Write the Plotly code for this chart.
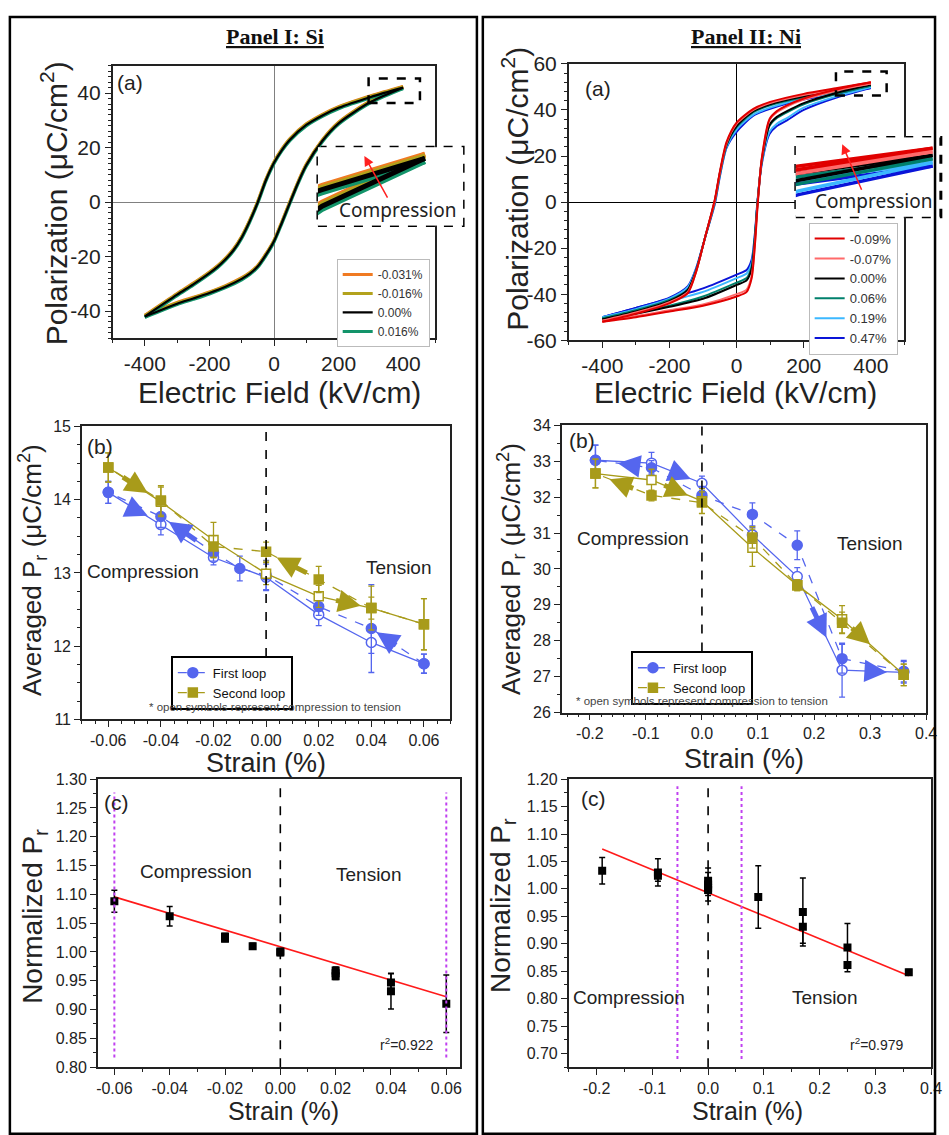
import plotly.graph_objects as go

W, H = 949, 1135
def px(x): return x / W
def py(y): return 1 - y / H

SANS = "Liberation Sans, Arial, sans-serif"
INK = "#222222"

# ---------------- Panel I (a): Si P-E loops ----------------
si_E_up = [400, 300, 200, 150, 100, 50, 25, 0, -25, -50, -75, -100, -125, -150, -175, -200, -250, -300, -400]
si_P_up = [42, 38.6, 34.6, 31.8, 28.3, 23, 19.2, 14.4, 8, 0, -7, -13, -17.6, -21, -23.8, -26.1, -30.2, -34, -42]
si_E_dn = [-400, -300, -250, -200, -150, -100, -75, -50, -25, 0, 25, 50, 75, 100, 150, 200, 300, 400]
si_P_dn = [-42, -37.3, -35.4, -33.4, -31.1, -28.2, -26.3, -23.6, -19.4, -14.4, -7.4, 0, 7.2, 13.5, 22.5, 28.9, 36.8, 42]
si_labels = ["-0.031%", "-0.016%", "0.00%", "0.016%"]
si_colors = ["#f07a22", "#b3a21c", "#000000", "#13946a"]
si_shift = [0.45, 0.25, 0.0, -0.35]      # small vertical separation
si_draw_order = [0, 1, 3, 2]

# ---------------- Panel II (a): Ni P-E loops ----------------
ni_E_up = [400, 300, 200, 100, 50, 0, -30, -50, -65, -95, -120, -145, -200, -300, -400]
ni_E_dn = [-400, -300, -200, -100, 0, 30, 45, 55, 62, 75, 98, 120, 150, 200, 300, 400]
ni_labels = ["-0.09%", "-0.07%", "0.00%", "0.06%", "0.19%", "0.47%"]
ni_colors = ["#e00000", "#ff6a6a", "#000000", "#00806c", "#3cb8ff", "#0a14d8"]
ni_P_up = [
    [52, 49.5, 47, 43.5, 40.5, 34.5, 26, 13, 1, -16, -30, -39.5, -44, -48.5, -52],
    [51.5, 49, 46.5, 43, 40, 34, 25.5, 12.5, 0.5, -16, -30, -39, -43.5, -48, -51.5],
    [51, 48.5, 46, 42.5, 39.5, 33, 25, 12.5, 0.5, -16, -29.5, -38, -43, -47.5, -51],
    [50.5, 48, 45.5, 42, 39, 32.5, 24.5, 12, 0, -16, -29.5, -38, -42.5, -47, -50.5],
    [50, 47.5, 45, 41, 38, 31.5, 24, 11.5, -0.5, -16, -29, -37, -42, -46.5, -50],
    [49.5, 47, 44.5, 40.5, 37.5, 30.5, 23.5, 11, -1, -16, -28.5, -36.5, -41.5, -46, -50],
]
ni_P_dn = [
    [-52, -50, -47.5, -45, -41, -39, -33, -18, -3, 19, 36, 39.5, 42, 45, 49, 52],
    [-51.5, -49.5, -47, -44.5, -40, -38, -32, -17, -2, 18.5, 35.5, 39, 41.5, 44.5, 48.5, 51.5],
    [-51, -48.5, -45.5, -42, -36, -34, -29, -15, -1, 18, 33.5, 37, 39.5, 43, 47.5, 51],
    [-50.5, -48, -45, -41, -35, -33, -28, -14.5, -1, 18, 33, 36.5, 39, 42.5, 47, 50.5],
    [-50, -47, -43, -39, -33, -31, -26.5, -14, -0.5, 17, 30.5, 34, 36.5, 41, 46, 50],
    [-50, -46, -42, -37.5, -31.5, -29.5, -25, -13, 0, 16.5, 29.5, 33, 35.5, 40, 45.5, 49.5],
]
ni_draw_order = [5, 4, 3, 2, 1, 0]

# ---------------- Panel I (b): Si averaged Pr ----------------
si_f1_open_x = [-0.06, -0.04, -0.02, 0.00, 0.02, 0.04, 0.06]
si_f1_open_y = [14.10, 13.66, 13.21, 12.94, 12.43, 12.05, 11.76]
si_f1_open_e = [0.15, 0.14, 0.10, 0.18, 0.15, 0.15, 0.13]
si_f1_fill_x = [0.06, 0.04, 0.02, 0.00, -0.01, -0.02, -0.04, -0.06]
si_f1_fill_y = [11.76, 12.24, 12.54, 12.97, 13.06, 13.28, 13.77, 14.10]
si_f1_fill_e = [0.13, 0.60, 0.12, 0.20, 0.17, 0.12, 0.15, 0.15]
si_s2_open_x = [-0.06, -0.04, -0.02, 0.00, 0.02, 0.04, 0.06]
si_s2_open_y = [14.44, 13.97, 13.45, 12.99, 12.68, 12.52, 12.30]
si_s2_open_e = [0.20, 0.20, 0.24, 0.15, 0.15, 0.30, 0.35]
si_s2_fill_x = [0.06, 0.04, 0.02, 0.00, -0.02, -0.04, -0.06]
si_s2_fill_y = [12.30, 12.52, 12.91, 13.29, 13.36, 13.99, 14.44]
si_s2_fill_e = [0.35, 0.15, 0.18, 0.13, 0.15, 0.20, 0.20]

# ---------------- Panel II (b): Ni averaged Pr ----------------
ni_f1_open_x = [-0.19, -0.09, 0.00, 0.09, 0.17, 0.25, 0.36]
ni_f1_open_y = [33.03, 32.95, 32.39, 30.95, 29.79, 27.18, 27.12]
ni_f1_open_e = [0.42, 0.30, 0.20, 0.20, 0.25, 0.75, 0.30]
ni_f1_fill_x = [0.36, 0.25, 0.17, 0.09, 0.00, -0.09, -0.19]
ni_f1_fill_y = [27.15, 27.50, 30.66, 31.52, 32.05, 32.82, 33.03]
ni_f1_fill_e = [0.30, 0.40, 0.40, 0.32, 0.25, 0.20, 0.42]
ni_s2_open_x = [-0.19, -0.09, 0.00, 0.09, 0.17, 0.25, 0.36]
ni_s2_open_y = [32.66, 32.48, 31.89, 30.59, 29.55, 28.60, 27.05]
ni_s2_open_e = [0.40, 0.30, 0.35, 0.52, 0.15, 0.38, 0.30]
ni_s2_fill_x = [0.36, 0.25, 0.17, 0.09, 0.00, -0.09, -0.19]
ni_s2_fill_y = [27.05, 28.50, 29.55, 30.88, 31.85, 32.05, 32.66]
ni_s2_fill_e = [0.30, 0.30, 0.15, 0.30, 0.30, 0.15, 0.40]

# ---------------- Panel I (c) / II (c): normalized Pr ----------------
si_c_x = [-0.06, -0.04, -0.02, -0.02, -0.01, 0.00, 0.00, 0.02, 0.02, 0.02, 0.04, 0.04, 0.06]
si_c_y = [1.088, 1.062, 1.027, 1.023, 1.010, 1.001, 0.999, 0.968, 0.963, 0.958, 0.947, 0.932, 0.910]
si_c_e = [0.019, 0.017, 0.005, 0.005, 0.005, 0.005, 0.005, 0.006, 0.006, 0.006, 0.015, 0.031, 0.050]
si_fit = (1.009, -1.444)     # intercept, slope
si_fit_r2 = "r<sup>2</sup>=0.922"

ni_c_x = [-0.19, -0.09, -0.09, 0.00, 0.00, 0.00, 0.00, 0.09, 0.17, 0.17, 0.25, 0.25, 0.36]
ni_c_y = [1.033, 1.030, 1.024, 1.015, 1.008, 1.002, 0.998, 0.985, 0.958, 0.931, 0.893, 0.861, 0.848]
ni_c_e = [0.024, 0.025, 0.010, 0.015, 0.030, 0.010, 0.010, 0.057, 0.062, 0.030, 0.044, 0.005, 0.005]
ni_fit = (0.993, -0.42)
ni_fit_r2 = "r<sup>2</sup>=0.979"

# tick labels
tk_E = [-400, -200, 0, 200, 400]
tk_si_b_x = [-0.06, -0.04, -0.02, 0.00, 0.02, 0.04, 0.06]
tk_si_b_xt = ["-0.06", "-0.04", "-0.02", "0.00", "0.02", "0.04", "0.06"]
tk_ni_x = [-0.2, -0.1, 0.0, 0.1, 0.2, 0.3, 0.4]
tk_ni_xt = ["-0.2", "-0.1", "0.0", "0.1", "0.2", "0.3", "0.4"]

BLUE = "#5566ee"
OLIVE = "#a89b1a"

fig = go.Figure()

# ---- (a) loops ----
for i in si_draw_order:
    s = si_shift[i]
    xs = si_E_up + [None] + si_E_dn
    ys = [p + s for p in si_P_up] + [None] + [p + s for p in si_P_dn]
    fig.add_trace(go.Scatter(x=xs, y=ys, mode="lines", name=si_labels[i],
                             line=dict(color=si_colors[i], width=3 if i != 2 else 2.2, shape="spline", smoothing=0.8),
                             xaxis="x", yaxis="y", legend="legend", legendrank=i + 1, connectgaps=False))
    fig.add_trace(go.Scatter(x=xs, y=ys, mode="lines", showlegend=False, hoverinfo="skip",
                             line=dict(color=si_colors[i], width=5),
                             xaxis="x7", yaxis="y7", connectgaps=False))

for i in ni_draw_order:
    xs = ni_E_up + [None] + ni_E_dn
    ys = ni_P_up[i] + [None] + ni_P_dn[i]
    fig.add_trace(go.Scatter(x=xs, y=ys, mode="lines", name=ni_labels[i],
                             line=dict(color=ni_colors[i], width=2, shape="spline", smoothing=0.7),
                             xaxis="x2", yaxis="y2", legend="legend2", legendrank=i + 1, connectgaps=False))
    fig.add_trace(go.Scatter(x=xs, y=ys, mode="lines", showlegend=False, hoverinfo="skip",
                             line=dict(color=ni_colors[i], width=3.5),
                             xaxis="x8", yaxis="y8", connectgaps=False))

# ---- (b) loops ----
def pr_series(x, y, e, color, symbol, filled, dash, xa, ya, legend, name, show):
    fig.add_trace(go.Scatter(
        x=x, y=y, mode="lines+markers", name=name, showlegend=show, legend=legend,
        line=dict(color=color, width=1.3, dash=dash),
        marker=dict(symbol=symbol, size=10 if symbol == "circle" else 9,
                    color=color if filled else "white", line=dict(color=color, width=1.5)),
        error_y=dict(type="data", array=e, color=color, thickness=1.3, width=3),
        xaxis=xa, yaxis=ya))

pr_series(si_f1_open_x, si_f1_open_y, si_f1_open_e, BLUE, "circle", False, "solid", "x3", "y3", "legend3", "First loop o", False)
pr_series(si_f1_fill_x, si_f1_fill_y, si_f1_fill_e, BLUE, "circle", True, "dash", "x3", "y3", "legend3", "First loop", True)
pr_series(si_s2_open_x, si_s2_open_y, si_s2_open_e, OLIVE, "square", False, "solid", "x3", "y3", "legend3", "Second loop o", False)
pr_series(si_s2_fill_x, si_s2_fill_y, si_s2_fill_e, OLIVE, "square", True, "dash", "x3", "y3", "legend3", "Second loop", True)

pr_series(ni_f1_open_x, ni_f1_open_y, ni_f1_open_e, BLUE, "circle", False, "solid", "x4", "y4", "legend4", "First loop o", False)
pr_series(ni_f1_fill_x, ni_f1_fill_y, ni_f1_fill_e, BLUE, "circle", True, "dash", "x4", "y4", "legend4", "First loop", True)
pr_series(ni_s2_open_x, ni_s2_open_y, ni_s2_open_e, OLIVE, "square", False, "solid", "x4", "y4", "legend4", "Second loop o", False)
pr_series(ni_s2_fill_x, ni_s2_fill_y, ni_s2_fill_e, OLIVE, "square", True, "dash", "x4", "y4", "legend4", "Second loop", True)

# ---- (c) normalized ----
for (cx, cy, ce, fit, xa, ya) in [(si_c_x, si_c_y, si_c_e, si_fit, "x5", "y5"),
                                   (ni_c_x, ni_c_y, ni_c_e, ni_fit, "x6", "y6")]:
    x0, x1 = min(cx), max(cx)
    fig.add_trace(go.Scatter(x=[x0, x1], y=[fit[0] + fit[1] * x0, fit[0] + fit[1] * x1], mode="lines",
                             line=dict(color="#ff1a1a", width=1.6), showlegend=False, xaxis=xa, yaxis=ya))
    fig.add_trace(go.Scatter(x=cx, y=cy, mode="markers", showlegend=False,
                             marker=dict(symbol="square", size=8, color="black"),
                             error_y=dict(type="data", array=ce, color="black", thickness=1.5, width=3),
                             xaxis=xa, yaxis=ya))

# ---------------- axes ----------------
def ax(domain, anchor, rng, tickvals=None, ticktext=None, dtick=None, minor=None, fs=16, **kw):
    d = dict(domain=domain, anchor=anchor, range=rng, autorange=False, showline=True, linecolor=INK, linewidth=1.5,
             mirror=True, ticks="outside", ticklen=6, tickwidth=1.3, tickcolor=INK, showgrid=False,
             zeroline=False, tickfont=dict(family=SANS, size=fs, color=INK))
    if tickvals is not None:
        d.update(tickmode="array", tickvals=tickvals, ticktext=ticktext)
    if dtick is not None:
        d.update(tickmode="linear", tick0=0, dtick=dtick)
    if minor is not None:
        d["minor"] = dict(tickmode="linear", tick0=0, dtick=minor, ticks="outside", ticklen=3,
                          tickwidth=1, tickcolor=INK)
    d.update(kw)
    return d

def hidden(domain, anchor, rng):
    return dict(domain=domain, anchor=anchor, range=rng, autorange=False, showline=False, showgrid=False,
                zeroline=False, ticks="", showticklabels=False, fixedrange=True)

def pos(x0, x1, y0, y1):
    return [px(x0), px(x1)], [py(y1), py(y0)]

dx1, dy1 = pos(113, 440, 55, 333)
dx2, dy2 = pos(575, 915, 53, 335)
dx3, dy3 = pos(82, 455, 423, 722)
dx4, dy4 = pos(568, 937, 422, 715)
dx5, dy5 = pos(98, 465, 783, 1077)
dx6, dy6 = pos(575, 942, 783, 1077)
dx7, dy7 = pos(321, 468, 138, 218)
dx8, dy8 = pos(805, 949, 128, 209)

tk_Et = [str(v) for v in tk_E]
layout_axes = dict(
    xaxis=ax(dx1, "y", [-500, 500], tk_E, tk_Et, minor=100, fs=21, zeroline=True, zerolinecolor="#808080", zerolinewidth=1),
    yaxis=ax(dy1, "x", [-50, 50], [-40, -20, 0, 20, 40], ["-40", "-20", "0", "20", "40"], minor=2, fs=21,
             zeroline=True, zerolinecolor="#808080", zerolinewidth=1),
    xaxis2=ax(dx2, "y2", [-500, 500], tk_E, tk_Et, minor=100, fs=21, zeroline=True, zerolinecolor="#000", zerolinewidth=1.2),
    yaxis2=ax(dy2, "x2", [-60, 60], [-60, -40, -20, 0, 20, 40, 60], ["-60", "-40", "-20", "0", "20", "40", "60"],
              minor=4, fs=21, zeroline=True, zerolinecolor="#000", zerolinewidth=1.2),
    xaxis3=ax(dx3, "y3", [-0.07, 0.07], tk_si_b_x, tk_si_b_xt, minor=0.005),
    yaxis3=ax(dy3, "x3", [11, 15], [11, 12, 13, 14, 15], ["11", "12", "13", "14", "15"], minor=0.25),
    xaxis4=ax(dx4, "y4", [-0.25, 0.4], tk_ni_x, tk_ni_xt, minor=0.02),
    yaxis4=ax(dy4, "x4", [26, 34], list(range(26, 35)), [str(v) for v in range(26, 35)], minor=0.5),
    xaxis5=ax(dx5, "y5", [-0.066, 0.065], tk_si_b_x, tk_si_b_xt, minor=0.01),
    yaxis5=ax(dy5, "x5", [0.8, 1.3], dtick=0.05, minor=0.025, tickformat=".2f"),
    xaxis6=ax(dx6, "y6", [-0.25, 0.4], tk_ni_x, tk_ni_xt, minor=0.05),
    yaxis6=ax(dy6, "x6", [0.675, 1.2], dtick=0.05, minor=0.025, tickformat=".2f"),
    xaxis7=hidden(dx7, "y7", [296, 437]),
    yaxis7=hidden(dy7, "x7", [34.7, 43.2]),
    xaxis8=hidden(dx8, "y8", [298, 404]),
    yaxis8=hidden(dy8, "x8", [42.4, 53.5]),
)

# ---------------- shapes ----------------
shapes = [
    dict(type="rect", xref="paper", yref="paper", x0=px(9), x1=px(482), y0=py(1145), y1=py(5),
         line=dict(color="black", width=2.5)),
    dict(type="rect", xref="paper", yref="paper", x0=px(488), x1=px(946), y0=py(1145), y1=py(5),
         line=dict(color="black", width=2.5)),
    # insets
    dict(type="rect", xref="x7 domain", yref="y7 domain", x0=0, x1=1, y0=0, y1=1, layer="below",
         fillcolor="white", line=dict(color="black", width=3, dash="dash")),
    dict(type="rect", xref="x8 domain", yref="y8 domain", x0=0, x1=1.02, y0=0, y1=1, layer="below",
         fillcolor="white", line=dict(color="black", width=3, dash="dash")),
    # small boxes around loop tips
    dict(type="rect", xref="x", yref="y", x0=293, x1=452, y0=36.4, y1=45.4,
         line=dict(color="black", width=2.5, dash="dash")),
    dict(type="rect", xref="x2", yref="y2", x0=296, x1=447, y0=46.3, y1=56.7,
         line=dict(color="black", width=2.5, dash="dash")),
    # zero strain dashed lines
    dict(type="line", xref="x3", yref="y3", x0=0, x1=0, y0=11.85, y1=15, line=dict(color="black", width=1.6, dash="dash")),
    dict(type="line", xref="x4", yref="y4", x0=0, x1=0, y0=27.7, y1=34, line=dict(color="black", width=1.6, dash="dash")),
    dict(type="line", xref="x5", yref="y5", x0=0, x1=0, y0=0.8, y1=1.29, line=dict(color="black", width=1.6, dash="dash")),
    dict(type="line", xref="x6", yref="y6", x0=0, x1=0, y0=0.675, y1=1.19, line=dict(color="black", width=1.6, dash="dash")),
    # magenta dotted limits
    dict(type="line", xref="x5", yref="y5", x0=-0.06, x1=-0.06, y0=0.817, y1=1.277, line=dict(color="#c040f0", width=2, dash="dot")),
    dict(type="line", xref="x5", yref="y5", x0=0.06, x1=0.06, y0=0.817, y1=1.277, line=dict(color="#c040f0", width=2, dash="dot")),
    dict(type="line", xref="x6", yref="y6", x0=-0.055, x1=-0.055, y0=0.69, y1=1.187, line=dict(color="#c040f0", width=2, dash="dot")),
    dict(type="line", xref="x6", yref="y6", x0=0.06, x1=0.06, y0=0.69, y1=1.187, line=dict(color="#c040f0", width=2, dash="dot")),
]

# ---------------- annotations ----------------
ann = []
def text(x, y, t, size, color=INK, family=SANS, angle=0, xanchor="center", yanchor="middle"):
    ann.append(dict(xref="paper", yref="paper", x=px(x), y=py(y), text=t, showarrow=False, textangle=angle,
                    font=dict(family=family, size=size, color=color), xanchor=xanchor, yanchor=yanchor))

SERIF = "Liberation Serif, Times New Roman, serif"
text(278, 25, "<b><u>Panel I: Si</u></b>", 22, "#111", SERIF)
text(755, 25, "<b><u>Panel II: Ni</u></b>", 22, "#111", SERIF)

# axis titles
text(54, 195, "Polarization (μC/cm<sup>2</sup>)", 30, angle=-90)
text(282, 388, "Electric Field (kV/cm)", 30)
text(521, 180, "Polarization (μC/cm<sup>2</sup>)", 30, angle=-90)
text(744, 388, "Electric Field (kV/cm)", 30)
text(32, 570, "Averaged P<sub>r</sub> (μC/cm<sup>2</sup>)", 26, angle=-90)
text(268, 767, "Strain (%)", 27)
text(517, 568, "Averaged P<sub>r</sub> (μC/cm<sup>2</sup>)", 26, angle=-90)
text(753, 762, "Strain (%)", 27)
text(34, 923, "Normalized P<sub>r</sub>", 28, angle=-90)
text(286, 1122, "Strain (%)", 25)
text(508, 912, "Normalized P<sub>r</sub>", 28, angle=-90)
text(756, 1122, "Strain (%)", 25)

# panel letters
text(131, 72, "(a)", 21)
text(605, 78, "(a)", 21)
text(100, 443, "(b)", 21)
text(588, 437, "(b)", 21)
text(117, 807, "(c)", 21)
text(600, 803, "(c)", 21)

# region labels
text(144, 571, "Compression", 19)
text(403, 567, "Tension", 19)
text(640, 537, "Compression", 19)
text(880, 542, "Tension", 19)
text(198, 877, "Compression", 19)
text(373, 880, "Tension", 19)
text(636, 1006, "Compression", 19)
text(835, 1006, "Tension", 19)
text(411, 1053, si_fit_r2, 14)
text(887, 1053, ni_fit_r2, 14)
text(278, 709, "* open symbols represent compression to tension", 11.5, "#444")
text(710, 703, "* open symbols represent compression to tension", 11.5, "#444")

# inset texts
NOTO = "Noto Sans, Open Sans, sans-serif"
text(402, 202, "Compression", 19, "#222", NOTO)
text(822, 193, "Compression", 19, "#222", NOTO, xanchor="left")

# red arrows in insets
for (hx, hy, tx, ty) in [(368, 147, 392, 190), (852, 135, 872, 182)]:
    ann.append(dict(xref="paper", yref="paper", x=px(hx), y=py(hy), ax=tx - hx, ay=ty - hy,
                    axref="pixel", ayref="pixel", showarrow=True, arrowhead=2, arrowsize=1.3,
                    arrowwidth=1.5, arrowcolor="#ff2020", text=""))

# direction arrows on (b) panels: (xaxis, yaxis, tail_x, tail_y, head_x, head_y, color)
arrows_b = [
    ("x3", "y3", -0.053, 13.91, -0.045, 13.78, BLUE),
    ("x3", "y3", -0.026, 13.43, -0.037, 13.70, BLUE),
    ("x3", "y3", 0.050, 12.00, 0.042, 12.19, BLUE),
    ("x3", "y3", -0.055, 14.32, -0.045, 14.09, OLIVE),
    ("x3", "y3", 0.016, 12.99, 0.004, 13.21, OLIVE),
    ("x3", "y3", 0.026, 12.63, 0.036, 12.55, OLIVE),
    ("x4", "y4", -0.11, 32.86, -0.15, 32.95, BLUE),
    ("x4", "y4", -0.055, 32.73, -0.02, 32.51, BLUE),
    ("x4", "y4", 0.195, 28.97, 0.222, 28.09, BLUE),
    ("x4", "y4", 0.29, 27.16, 0.33, 27.12, BLUE),
    ("x4", "y4", -0.12, 32.23, -0.165, 32.50, OLIVE),
    ("x4", "y4", -0.07, 32.35, -0.025, 32.05, OLIVE),
    ("x4", "y4", 0.265, 28.39, 0.30, 27.90, OLIVE),
]
for (xa, ya, tx, ty, hx, hy, c) in arrows_b:
    ann.append(dict(xref=xa, yref=ya, axref=xa, ayref=ya, x=hx, y=hy, ax=tx, ay=ty, text="",
                    showarrow=True, arrowhead=2, arrowsize=0.9, arrowwidth=5, arrowcolor=c))

legend_common = dict(xanchor="left", yanchor="top", bgcolor="white", tracegroupgap=0, itemwidth=30)
fig.update_layout(
    width=W, height=H, margin=dict(l=0, r=0, t=0, b=0), autosize=False,
    paper_bgcolor="white", plot_bgcolor="white",
    shapes=shapes, annotations=ann,
    legend=dict(x=px(340), y=py(252), bordercolor="#bbbbbb", borderwidth=1,
                font=dict(family=SANS, size=12, color="#333"), **legend_common),
    legend2=dict(x=px(818), y=py(215), bordercolor="#bbbbbb", borderwidth=1,
                 font=dict(family=SANS, size=13, color="#333"), **legend_common),
    legend3=dict(x=px(172), y=py(657), bordercolor="black", borderwidth=2,
                 font=dict(family=SANS, size=13, color="#111"), **legend_common),
    legend4=dict(x=px(638), y=py(652), bordercolor="black", borderwidth=2,
                 font=dict(family=SANS, size=13, color="#111"), **legend_common),
    **layout_axes,
)

fig.write_html("out.html", config={"displayModeBar": False},
               post_script="document.body.style.margin='0px';document.body.style.overflow='hidden';")
